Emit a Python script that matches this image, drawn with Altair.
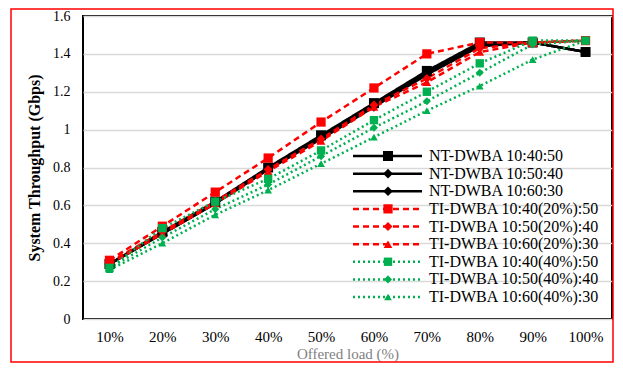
import altair as alt
import pandas as pd

loads = ["10%", "20%", "30%", "40%", "50%", "60%", "70%", "80%", "90%", "100%"]

series_names = [
    "NT-DWBA 10:40:50",
    "NT-DWBA 10:50:40",
    "NT-DWBA 10:60:30",
    "TI-DWBA 10:40(20%):50",
    "TI-DWBA 10:50(20%):40",
    "TI-DWBA 10:60(20%):30",
    "TI-DWBA 10:40(40%):50",
    "TI-DWBA 10:50(40%):40",
    "TI-DWBA 10:60(40%):30",
]

nt_40_50 = [0.29, 0.46, 0.62, 0.80, 0.97, 1.14, 1.31, 1.46, 1.46, 1.41]
nt_50_40 = [0.29, 0.45, 0.61, 0.79, 0.96, 1.13, 1.30, 1.45, 1.46, 1.41]
nt_60_30 = [0.29, 0.45, 0.61, 0.79, 0.95, 1.12, 1.29, 1.44, 1.46, 1.41]
ti20_40_50 = [0.31, 0.49, 0.67, 0.85, 1.04, 1.22, 1.40, 1.46, 1.46, 1.47]
ti20_50_40 = [0.30, 0.46, 0.62, 0.79, 0.95, 1.13, 1.27, 1.43, 1.46, 1.47]
ti20_60_30 = [0.29, 0.45, 0.61, 0.78, 0.94, 1.12, 1.25, 1.41, 1.46, 1.47]
ti40_40_50 = [0.27, 0.48, 0.62, 0.74, 0.89, 1.05, 1.20, 1.35, 1.47, 1.47]
ti40_50_40 = [0.27, 0.43, 0.58, 0.71, 0.86, 1.01, 1.15, 1.30, 1.45, 1.47]
ti40_60_30 = [0.26, 0.40, 0.55, 0.68, 0.82, 0.96, 1.10, 1.23, 1.37, 1.47]

all_values = [nt_40_50, nt_50_40, nt_60_30, ti20_40_50, ti20_50_40, ti20_60_30,
              ti40_40_50, ti40_50_40, ti40_60_30]

y_ticks = [0, 0.2, 0.4, 0.6, 0.8, 1.0, 1.2, 1.4, 1.6]

rows = []
for name, vals in zip(series_names, all_values):
    for ld, v in zip(loads, vals):
        rows.append({"load": ld, "value": v, "series": name})
df = pd.DataFrame(rows)
legend_df = pd.DataFrame({"series": series_names})

GREEN = "#00b050"
colors = ["#000000"] * 3 + ["#ff0000"] * 3 + [GREEN] * 3
dashes = [[1, 0]] * 3 + [[6, 4]] * 3 + [[2, 3]] * 3
shapes = ["square", "diamond", "diamond",
          "square", "diamond", "triangle-up",
          "square", "diamond", "triangle-up"]
widths = [2.5] * 3 + [2] * 3 + [2.5] * 3
sizes = [100, 60, 60, 105, 90, 100, 105, 90, 100]

FONT = "'Liberation Serif', 'Times New Roman', 'DejaVu Serif', serif"

color_enc = alt.Color("series:N", scale=alt.Scale(domain=series_names, range=colors), legend=None)
dash_enc = alt.StrokeDash("series:N", scale=alt.Scale(domain=series_names, range=dashes), legend=None)
width_enc = alt.StrokeWidth("series:N", scale=alt.Scale(domain=series_names, range=widths), legend=None)
shape_enc = alt.Shape("series:N", scale=alt.Scale(domain=series_names, range=shapes), legend=None)
size_enc = alt.Size("series:N", scale=alt.Scale(domain=series_names, range=sizes), legend=None)

x_enc = alt.X(
    "load:N", sort=loads,
    scale=alt.Scale(type="point", padding=0.5, domain=loads),
    axis=alt.Axis(grid=False, ticks=False, domain=False, labelAngle=0,
                  labelFont=FONT, labelFontSize=15, labelColor="black", labelPadding=10,
                  title="Offered load (%)", titleFont=FONT, titleFontSize=15,
                  titleFontWeight="normal", titleColor="#7f7f7f", titlePadding=2),
)
y_enc = alt.Y(
    "value:Q",
    scale=alt.Scale(domain=[0, 1.6], nice=False, zero=True),
    axis=alt.Axis(values=y_ticks, format="~g", grid=True, gridColor="#d9d9d9", gridWidth=1.5,
                  ticks=False, domain=False,
                  labelFont=FONT, labelFontSize=14, labelColor="black", labelPadding=13,
                  title="System Throughput (Gbps)", titleFont=FONT, titleFontSize=16,
                  titleFontWeight="bold", titleColor="black", titlePadding=10),
)

border = alt.Chart(pd.DataFrame({"a": [0]})).mark_rect(
    fillOpacity=0, stroke="#ff0000", strokeWidth=1.5, clip=False
).encode(x=alt.value(-72), x2=alt.value(530), y=alt.value(-7), y2=alt.value(346))

lines = alt.Chart(df).mark_line().encode(
    x=x_enc, y=y_enc, color=color_enc, strokeDash=dash_enc, strokeWidth=width_enc
)
points = alt.Chart(df).mark_point(filled=True, opacity=1).encode(
    x=x_enc, y=y_enc, color=color_enc, shape=shape_enc, size=size_enc
)
data_layer = alt.layer(lines, points)

leg_y = alt.Y("series:N", sort=series_names,
              scale=alt.Scale(type="point", domain=series_names, range=[140, 281], padding=0),
              axis=None)

leg_rule = alt.Chart(legend_df).mark_rule().encode(
    x=alt.value(270), x2=alt.value(339), y=leg_y,
    color=color_enc, strokeDash=dash_enc, strokeWidth=width_enc
)
leg_point = alt.Chart(legend_df).mark_point(filled=True, opacity=1).encode(
    x=alt.value(305), y=leg_y, color=color_enc, shape=shape_enc, size=size_enc
)
leg_text = alt.Chart(legend_df).mark_text(
    align="left", baseline="middle", font=FONT, fontSize=16, color="black"
).encode(x=alt.value(346), y=leg_y, text="series:N")
legend_layer = alt.layer(leg_rule, leg_point, leg_text)

chart = alt.layer(border, data_layer, legend_layer).resolve_scale(
    y="independent"
).properties(
    width=529, height=303,
    autosize=alt.AutoSizeParams(type="none"),
    padding={"left": 75, "top": 8, "right": 3, "bottom": 45},
    background="white",
).configure_view(stroke="black", strokeWidth=2)

chart.save("out.html", embed_options={"renderer": "svg", "actions": False})
